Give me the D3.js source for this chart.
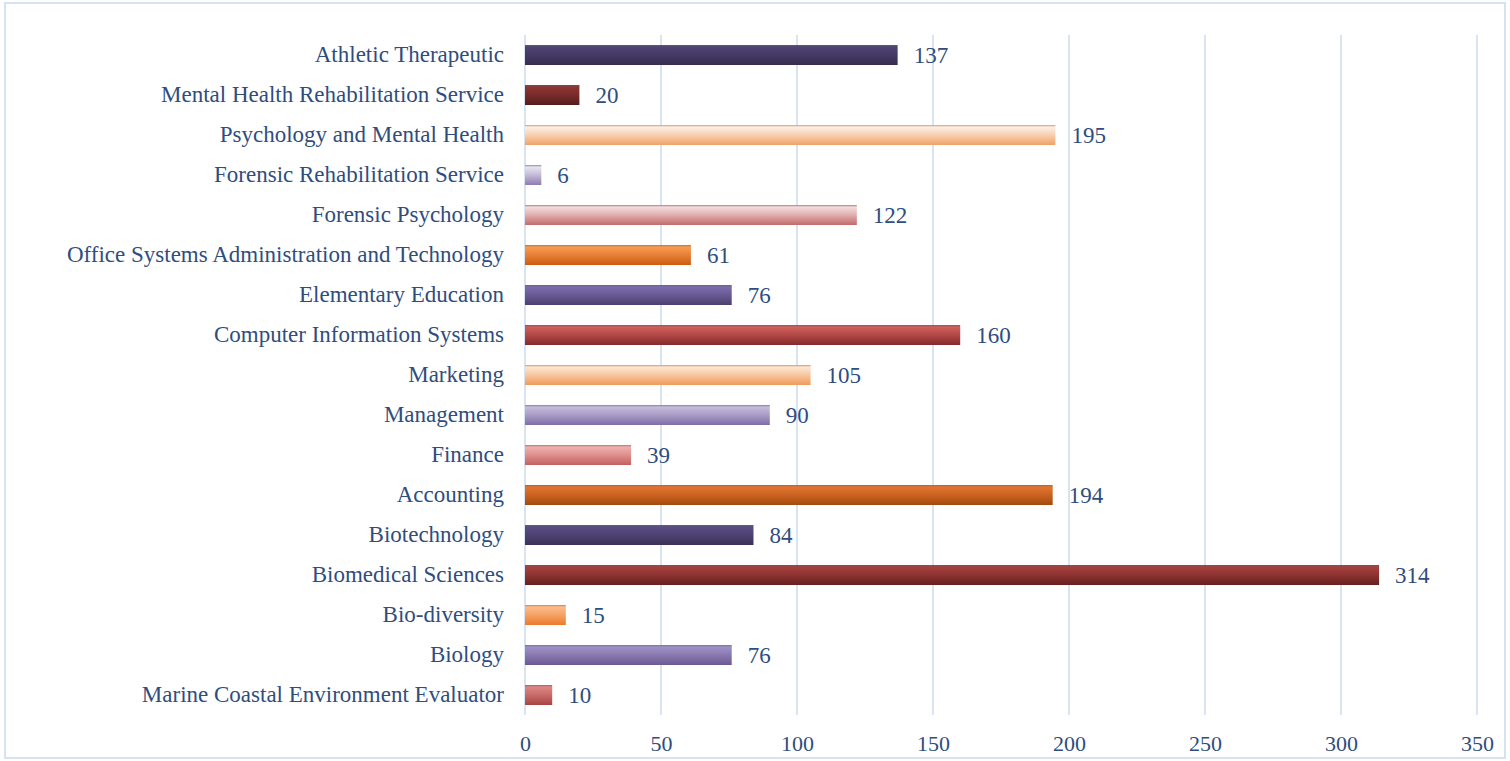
<!DOCTYPE html>
<html>
<head>
<meta charset="utf-8">
<script src="https://cdn.jsdelivr.net/npm/d3@7"></script>
<style>
  body { margin: 0; background: #fff; }
  svg { display: block; }
  svg text { font-family: "Liberation Serif", "DejaVu Serif", serif; }
</style>
</head>
<body>
<svg id="chart" width="1510" height="761"></svg>
<script>
// categories listed bottom to top, as the chart reads
const programs = [
  "Marine Coastal Environment Evaluator",
  "Biology",
  "Bio-diversity",
  "Biomedical Sciences",
  "Biotechnology",
  "Accounting",
  "Finance",
  "Management",
  "Marketing",
  "Computer Information Systems",
  "Elementary Education",
  "Office Systems Administration and Technology",
  "Forensic Psychology",
  "Forensic Rehabilitation Service",
  "Psychology and Mental Health",
  "Mental Health Rehabilitation Service",
  "Athletic Therapeutic"
];

const counts = [10, 76, 15, 314, 84, 194, 39, 90, 105, 160, 76, 61, 122, 6, 195, 20, 137];

const xTicks = [0, 50, 100, 150, 200, 250, 300, 350];

// top / bottom gradient colours for each bar (same order as programs)
const topShades = [
  "#dc8684", "#9d90c6", "#fcbc8a", "#a6403d", "#5b4d84", "#e4742f",
  "#efb0ae", "#c6bcdc", "#fde6d2", "#cf5f5b", "#7d6cac", "#f99a50",
  "#f4dcdc", "#e8e4f0", "#fdefe4", "#8e3634", "#4e4374"
];
const bottomShades = [
  "#a84442", "#6c5891", "#ec7a2c", "#66201f", "#3c3057", "#a34a0e",
  "#c4605e", "#7f6da6", "#f09a58", "#86292a", "#4c3f6f", "#cc5c10",
  "#c46a6a", "#8e7db0", "#f0a264", "#571b1b", "#372c4f"
];

(function drawProgramChart() {
  const svg = d3.select("#chart");
  const width = 1510;
  const height = 761;

  const margin = { top: 35, right: 33, bottom: 46, left: 525 };
  const innerWidth = width - margin.left - margin.right;
  const innerHeight = height - margin.top - margin.bottom;

  const textColor = "#2f4d7e";
  const font = "Liberation Serif, DejaVu Serif, serif";

  // outer frame
  svg.append("rect")
    .attr("x", 5)
    .attr("y", 3)
    .attr("width", width - 10)
    .attr("height", height - 6)
    .attr("fill", "#fff")
    .attr("stroke", "#d5e2f2")
    .attr("stroke-width", 2);

  const defs = svg.append("defs");
  programs.forEach((p, i) => {
    const grad = defs.append("linearGradient")
      .attr("id", "grad" + i)
      .attr("x1", 0).attr("y1", 0)
      .attr("x2", 0).attr("y2", 1);
    const mid = d3.interpolateRgb(topShades[i], bottomShades[i])(0.35);
    const edge = d3.interpolateRgb(bottomShades[i], "#9a9a9a")(0.4);
    grad.append("stop").attr("offset", "0%").attr("stop-color", edge);
    grad.append("stop").attr("offset", "10%").attr("stop-color", topShades[i]);
    grad.append("stop").attr("offset", "45%").attr("stop-color", mid);
    grad.append("stop").attr("offset", "100%").attr("stop-color", bottomShades[i]);
  });

  const g = svg.append("g")
    .attr("transform", `translate(${margin.left},${margin.top})`);

  const x = d3.scaleLinear()
    .domain([0, 350])
    .range([0, innerWidth]);

  const y = d3.scaleBand()
    .domain(programs.slice().reverse())
    .range([0, innerHeight])
    .paddingInner(0.5)
    .paddingOuter(0.25);

  // vertical gridlines
  g.append("g")
    .selectAll("line")
    .data(xTicks)
    .enter()
    .append("line")
    .attr("x1", d => x(d))
    .attr("x2", d => x(d))
    .attr("y1", 0)
    .attr("y2", innerHeight)
    .attr("stroke", "#d9e4f2")
    .attr("stroke-width", 2);

  // x axis labels
  const xAxis = g.append("g")
    .attr("transform", `translate(0,${innerHeight})`)
    .call(d3.axisBottom(x).tickValues(xTicks).tickSize(0).tickPadding(20));
  xAxis.attr("font-family", font);
  xAxis.select(".domain").remove();
  xAxis.selectAll("text")
    .style("font-size", "22px")
    .attr("fill", textColor);

  // category labels
  const yAxis = g.append("g")
    .call(d3.axisLeft(y).tickSize(0).tickPadding(21));
  yAxis.attr("font-family", font);
  yAxis.select(".domain").remove();
  yAxis.selectAll("text")
    .style("font-size", "23px")
    .attr("fill", textColor);

  const rows = programs.map((p, i) => ({ name: p, value: counts[i], idx: i }));

  g.append("g")
    .selectAll("rect")
    .data(rows)
    .enter()
    .append("rect")
    .attr("x", x(0))
    .attr("y", d => y(d.name))
    .attr("width", d => x(d.value) - x(0))
    .attr("height", y.bandwidth())
    .attr("fill", d => `url(#grad${d.idx})`);

  g.append("g")
    .selectAll("text")
    .data(rows)
    .enter()
    .append("text")
    .attr("x", d => x(d.value) + 16)
    .attr("y", d => y(d.name) + y.bandwidth() / 2)
    .attr("dy", "0.35em")
    .style("font-size", "23px")
    .attr("fill", textColor)
    .text(d => d.value);
})();
</script>
</body>
</html>
